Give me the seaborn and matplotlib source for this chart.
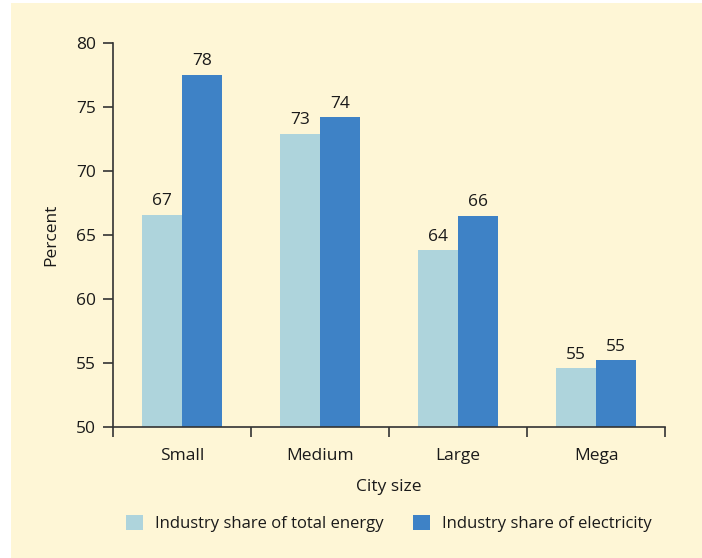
import matplotlib
matplotlib.use("Agg")
import matplotlib.pyplot as plt
from matplotlib.patches import Rectangle
import seaborn as sns
import pandas as pd

# data
cities = ["Small", "Medium", "Large", "Mega"]
total_energy = [66.6, 72.9, 63.8, 54.6]
electricity = [77.5, 74.2, 66.5, 55.2]
series_names = ["Industry share of total energy", "Industry share of electricity"]
yticks = [50, 55, 60, 65, 70, 75, 80]

BG = "#FEF6D6"
COLORS = ["#AED4DC", "#3E82C6"]
TXT = "#1a1a1a"
FS = 12.5

df = pd.DataFrame({
    "City size": cities * 2,
    "Percent": total_energy + electricity,
    "Series": [series_names[0]] * len(cities) + [series_names[1]] * len(cities),
})

sns.set_theme(style="ticks")
plt.rcParams["font.family"] = ["Open Sans", "DejaVu Sans"]

fig = plt.figure(figsize=(7.02, 5.58), dpi=100)
fig.patch.set_facecolor("white")
fig.patches.append(Rectangle((11 / 702, 0), 1, 1 - 3 / 558, transform=fig.transFigure,
                             facecolor=BG, edgecolor="none", zorder=-10))
ax = fig.add_axes([113 / 702, 1 - 427 / 558, (665 - 113) / 702, (427 - 43) / 558])
ax.set_facecolor(BG)

sns.barplot(data=df, x="City size", y="Percent", hue="Series", palette=COLORS,
            width=0.575, gap=0, saturation=1, linewidth=0, ax=ax)

for cont in ax.containers:
    labels = [f"{v:.0f}" for v in cont.datavalues]
    ax.bar_label(cont, labels=labels, padding=4, fontsize=FS, color=TXT)

ax.set_ylim(50, 80)
ax.set_yticks(yticks)
ax.set_xlim(-0.5, len(cities) - 0.5)
ax.set_xticks([i - 0.5 for i in range(len(cities) + 1)])
ax.set_xticklabels([])
ax.tick_params(axis="x", length=7, width=1.2, color="#333333", direction="out")
ax.tick_params(axis="y", length=7, width=1.2, color="#333333", labelsize=FS,
               labelcolor=TXT, pad=5)
for i, c in enumerate(cities):
    ax.text(i, -0.075, c, transform=ax.get_xaxis_transform(), ha="center", va="center",
            fontsize=FS, color=TXT)

sns.despine(ax=ax)
for s in ["left", "bottom"]:
    ax.spines[s].set_color("#333333")
    ax.spines[s].set_linewidth(1.2)

ax.set_xlabel("City size", fontsize=FS, color=TXT, labelpad=27)
ax.set_ylabel("Percent", fontsize=FS, color=TXT, labelpad=12)

leg = ax.legend(loc="upper center", bbox_to_anchor=(0.5, -0.19), ncol=2, frameon=False,
                fontsize=12, handlelength=1.0, handleheight=1.0, handletextpad=0.7,
                columnspacing=1.8)
for t in leg.get_texts():
    t.set_color(TXT)

fig.savefig("out.png", dpi=100, facecolor=fig.get_facecolor())
